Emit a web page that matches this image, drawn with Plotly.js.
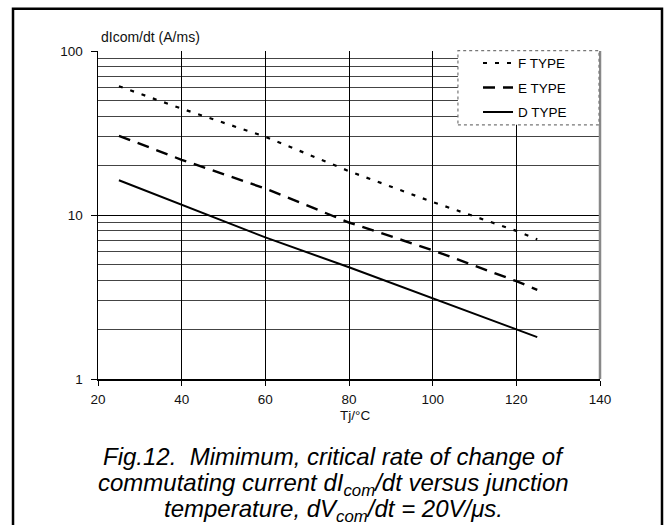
<!DOCTYPE html>
<html>
<head>
<meta charset="utf-8">
<script src="https://cdn.plot.ly/plotly-3.0.1.min.js"></script>
<style>html,body{margin:0;padding:0;background:#fff;}#chart{width:667px;height:525px;}</style>
</head>
<body>
<div id="chart"></div>
<script>
// Junction temperature (°C)
const temps = [25, 40, 60, 80, 100, 120, 125];
// dIcom/dt (A/ms) per type
const fType = [61, 44.5, 30, 18.5, 12, 8, 7.1];
const eType = [30.4, 21.7, 14.5, 9.0, 6.1, 3.95, 3.5];
const dType = [16.3, 11.6, 7.3, 4.8, 3.1, 2.0, 1.8];
const seriesNames = ['F TYPE', 'E TYPE', 'D TYPE'];
const xTicks = [20, 40, 60, 80, 100, 120, 140];
const yTicks = [1, 10, 100];
const yTickText = ['1', '10', '100'];
const yMinor = [2, 3, 4, 5, 6, 7, 8, 9, 20, 30, 40, 50, 60, 70, 80, 90];
const captionLines = [
  '<i>Fig.12.  Mimimum, critical rate of change of</i>',
  '<i>commutating current dI<sub>com</sub>/dt versus junction</i>',
  '<i>temperature, dV<sub>com</sub>/dt = 20V/μs.</i>'
];

const font = 'Liberation Sans, Arial, sans-serif';

const traces = [
  {x: temps, y: fType, name: seriesNames[0], legendgroup: 'f', mode: 'lines',
   line: {color: '#000', width: 2.2, dash: '4px,8px'}},
  {x: temps, y: eType, name: seriesNames[1], legendgroup: 'e', mode: 'lines',
   line: {color: '#000', width: 2.4, dash: '12px,8px'}},
  {x: temps, y: dType, name: seriesNames[2], legendgroup: 'd', mode: 'lines',
   line: {color: '#000', width: 2}}
];

const capY = [-0.2369, -0.3223, -0.4015];

const layout = {
  width: 667, height: 525,
  margin: {l: 98, r: 67, t: 51, b: 146},
  paper_bgcolor: '#fff', plot_bgcolor: '#fff',
  font: {family: font, size: 13, color: '#111'},
  showlegend: true,
  legend: {x: 0.757, y: 1.010, xanchor: 'left', yanchor: 'top',
           bgcolor: 'rgba(0,0,0,0)', borderwidth: 0, itemwidth: 30,
           tracegroupgap: 4, font: {family: font, size: 13.5, color: '#000'}},
  xaxis: {type: 'linear', range: [20, 140], tickvals: xTicks,
          ticks: 'outside', ticklen: 5, tickcolor: '#000', ticklabelstandoff: 2,
          showgrid: true, gridcolor: '#000', gridwidth: 1,
          showline: true, linecolor: '#000', linewidth: 1.5,
          zeroline: false, tickfont: {size: 13.5, color: '#111'}},
  yaxis: {type: 'log', range: [0, 2], tickvals: yTicks, ticktext: yTickText,
          ticks: 'outside', ticklen: 6, tickcolor: '#000', ticklabelstandoff: 5,
          showgrid: true, gridcolor: '#000', gridwidth: 1,
          minor: {tickvals: yMinor, showgrid: true, gridcolor: '#444', gridwidth: 1, ticks: ''},
          showline: true, linecolor: '#000', linewidth: 1.5,
          zeroline: false, tickfont: {size: 13.5, color: '#111'}},
  shapes: [
    {type: 'line', xref: 'paper', yref: 'paper', x0: 1, x1: 1, y0: 0, y1: 1,
     line: {color: '#888', width: 2.5}},
    {type: 'rect', xref: 'paper', yref: 'paper', x0: 0.717, x1: 0.998, y0: 0.775, y1: 1.001,
     fillcolor: '#fff', layer: 'above', line: {color: '#777', width: 1.2, dash: 'dot'}},
    {type: 'rect', xref: 'paper', yref: 'paper', x0: -0.1693, x1: 1.1235, y0: -0.47, y1: 1.129,
     line: {color: '#000', width: 2.5}}
  ],
  annotations: [
    {xref: 'paper', yref: 'paper', x: 0.002, y: 1.044, xanchor: 'left', yanchor: 'middle',
     showarrow: false, text: 'dIcom/dt (A/ms)', font: {family: font, size: 14, color: '#111'}},
    {xref: 'paper', yref: 'paper', x: 0.512, y: -0.112, xanchor: 'center', yanchor: 'middle',
     showarrow: false, text: 'Tj/°C', font: {family: font, size: 13.5, color: '#111'}}
  ].concat(captionLines.map((t, i) => ({
     xref: 'paper', yref: 'paper', x: 0.469, y: capY[i], xanchor: 'center', yanchor: 'middle',
     showarrow: false, text: t, font: {family: font, size: 24, color: '#000'}})))
};

Plotly.newPlot('chart', traces, layout, {staticPlot: true, displayModeBar: false});
</script>
</body>
</html>
